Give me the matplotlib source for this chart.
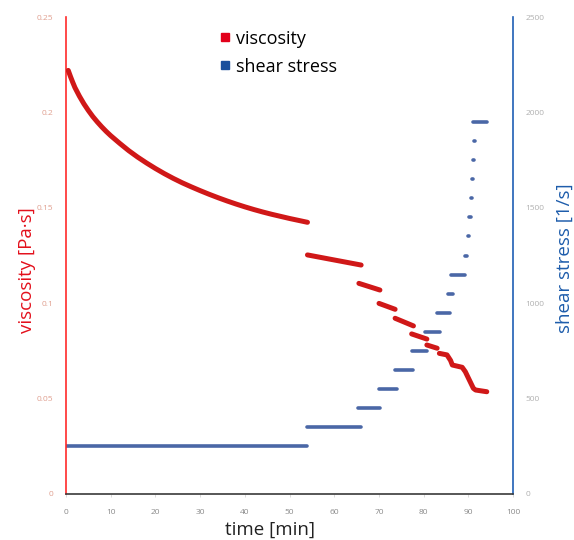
import numpy as np
import matplotlib
matplotlib.use("Agg")
import matplotlib.pyplot as plt
from matplotlib.lines import Line2D
from matplotlib.ticker import FuncFormatter

plt.rcParams['font.family'] = ['Open Sans', 'DejaVu Sans']

# Viscosity [Pa·s] over time [min]; NaN separates the measurement blocks
viscosity_time = [
    0.5, 1, 1.5, 2, 3, 4, 5, 6, 7, 8, 9, 10, 12, 14, 16, 18, 20, 22, 24, 26,
    28, 30, 32, 34, 36, 38, 40, 42, 44, 46, 48, 50, 52, 54, np.nan,
    54, 66, np.nan,
    65.5, 70.2, np.nan,
    70.0, 73.6, np.nan,
    73.6, 77.7, np.nan,
    77.3, 80.7, np.nan,
    80.7, 83.0, np.nan,
    83.5, 85.2, 86.0, 86.4, 88.6, 89.3, 91.1, 91.6, 94.1,
]
viscosity_value = [
    0.2220, 0.2188, 0.2158, 0.2130, 0.2085, 0.2045, 0.2010, 0.1978, 0.1950,
    0.1924, 0.1900, 0.1878, 0.1838, 0.1800, 0.1766, 0.1735, 0.1706, 0.1679,
    0.1654, 0.1631, 0.1610, 0.1590, 0.1571, 0.1553, 0.1536, 0.1520, 0.1505,
    0.1491, 0.1478, 0.1466, 0.1455, 0.1444, 0.1434, 0.1424, np.nan,
    0.1253, 0.1200, np.nan,
    0.1104, 0.1069, np.nan,
    0.0999, 0.0968, np.nan,
    0.0921, 0.0881, np.nan,
    0.0839, 0.0812, np.nan,
    0.0781, 0.0764, np.nan,
    0.0737, 0.0729, 0.0700, 0.0676, 0.0664, 0.0641, 0.0554, 0.0545, 0.0536,
]

# Shear stress steps: level [1/s] held from start to end [min]
shear_level = [250, 350, 450, 550, 650, 750, 850, 950, 1050, 1150,
               1250, 1350, 1450, 1550, 1650, 1750, 1850, 1950]
shear_start = [0.0, 54.0, 65.4, 69.9, 73.6, 77.3, 80.3, 82.9, 85.5, 86.0,
               89.3, 89.8, 90.2, 90.5, 90.8, 91.0, 91.2, 91.1]
shear_end = [54.0, 66.0, 70.2, 74.0, 77.7, 80.7, 83.7, 85.9, 86.6, 89.3,
             89.6, 90.1, 90.5, 90.8, 91.0, 91.2, 91.4, 94.1]

x_ticks = [0, 10, 20, 30, 40, 50, 60, 70, 80, 90, 100]
visc_ticks = [0, 0.05, 0.1, 0.15, 0.2, 0.25]
shear_ticks = [0, 500, 1000, 1500, 2000, 2500]

RED_LINE = '#d01818'
RED_AXIS = '#ff2a2a'
RED_LABEL = '#e3101c'
BLUE_LINE = '#4a67a6'
BLUE_AXIS = '#1f5fb4'
BLUE_LABEL = '#1d5cab'

fig = plt.figure(figsize=(5.74, 5.40), dpi=100)
ax = fig.add_axes([0.115, 0.0852, 0.779, 0.8833])
ax2 = ax.twinx()

ax.set_xlim(0, 100)
ax.set_ylim(0, 0.25)
ax2.set_ylim(0, 2500)

# shear stress steps
for lvl, t0, t1 in zip(shear_level, shear_start, shear_end):
    ax2.plot([t0, t1], [lvl, lvl], color=BLUE_LINE, lw=2.6,
             solid_capstyle='round', zorder=2)

# viscosity
ax.plot(viscosity_time, viscosity_value, color=RED_LINE, lw=3.6,
        solid_capstyle='round', solid_joinstyle='round', zorder=3)
ax.set_zorder(ax2.get_zorder() + 1)
ax.patch.set_visible(False)

for a in (ax, ax2):
    a.spines['top'].set_visible(False)
ax.spines['left'].set_color(RED_AXIS)
ax.spines['left'].set_linewidth(1.2)
ax.spines['right'].set_visible(False)
ax2.spines['left'].set_visible(False)
ax2.spines['bottom'].set_visible(False)
ax2.spines['right'].set_color(BLUE_AXIS)
ax2.spines['right'].set_linewidth(1.2)
ax.spines['bottom'].set_color('#3a3a3a')
ax.spines['bottom'].set_linewidth(1.2)

ax.set_xticks(x_ticks)
ax.set_yticks(visc_ticks)
ax2.set_yticks(shear_ticks)
ax.yaxis.set_major_formatter(FuncFormatter(lambda v, p: f"{v:g}"))
ax.tick_params(axis='x', length=2, width=0.5, color='#cccccc',
               labelsize=6, labelcolor='#8a8a8a', pad=9)
ax.tick_params(axis='y', length=0, labelsize=6, labelcolor='#e0a090', pad=9)
ax2.tick_params(axis='y', length=0, labelsize=6, labelcolor='#b0b0b0', pad=9)

# axis titles placed in figure coordinates
fig.text(270 / 574, 1 - 530 / 540, 'time [min]', fontsize=13.5,
         color='#222222', ha='center', va='center')
fig.text(27 / 574, 1 - 270 / 540, 'viscosity [Pa·s]', fontsize=13.5,
         color=RED_LABEL, ha='center', va='center', rotation=90)
fig.text(565 / 574, 1 - 258 / 540, 'shear stress [1/s]', fontsize=13.5,
         color=BLUE_LABEL, ha='center', va='center', rotation=90)

handles = [
    Line2D([], [], ls='none', marker='s', ms=6, color='#e2001a'),
    Line2D([], [], ls='none', marker='s', ms=6, color='#1a4f9c'),
]
ax.legend(handles, ['viscosity', 'shear stress'], loc='upper left',
          bbox_to_anchor=(0.315, 1.0), frameon=False, fontsize=13,
          handlelength=0.6, handletextpad=0.3, labelspacing=0.55,
          borderaxespad=0.3)

fig.savefig('out.png', dpi=100, facecolor='white')
